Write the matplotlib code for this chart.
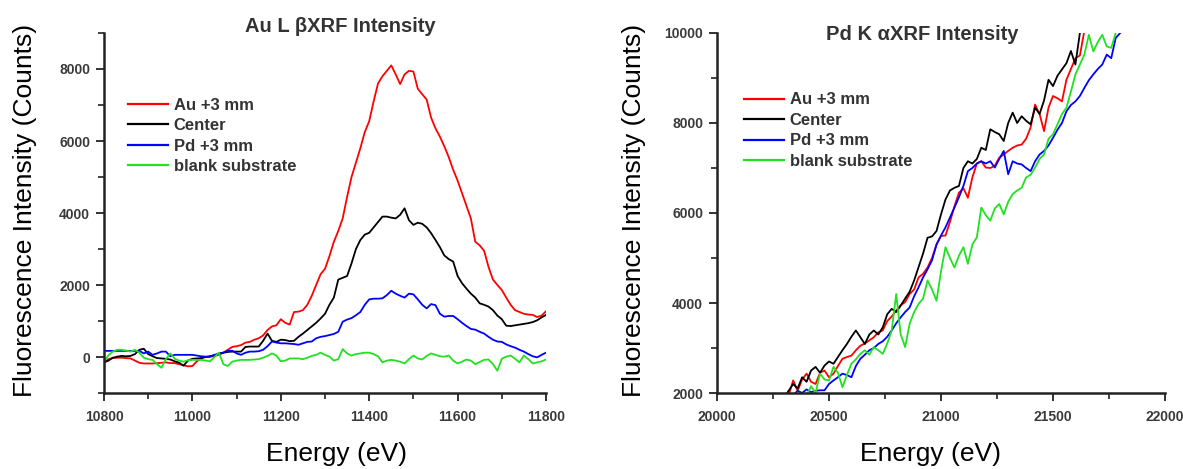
import numpy as np
import matplotlib
matplotlib.use('Agg')
import matplotlib.pyplot as plt
from matplotlib.ticker import MultipleLocator

plt.rcParams['font.family'] = ['Liberation Sans', 'DejaVu Sans']

# ---------------- data ----------------
series_labels = ['Au +3 mm', 'Center', 'Pd +3 mm', 'blank substrate']
series_colors = ['#ff0000', '#000000', '#0000ff', '#22e022']

# Au L-beta panel: energies 10800..11800 eV, 10 eV step
au_start, au_step = 10800, 10
au_red = [-150, -60, -30, -20, -20, -30, -40, -100, -160, -180,
          -180, -180, -170, -160, -150, -170, -170, -200, -230, -260,
          -250, -120, -30, 0, 10, 30, 60, 120, 200, 280,
          300, 330, 400, 420, 480, 520, 600, 750, 850, 880,
          1050, 950, 900, 1250, 1260, 1300, 1450, 1700, 2000, 2300,
          2450, 2800, 3200, 3500, 3850, 4450, 5000, 5400, 5800, 6250,
          6550, 7100, 7600, 7800, 7950, 8100, 7850, 7580, 7850, 7950,
          7930, 7450, 7300, 7150, 6650, 6350, 6120, 5850, 5550, 5200,
          4900, 4550, 4200, 3850, 3200, 3100, 2950, 2500, 2150, 2000,
          1860, 1650, 1450, 1300, 1250, 1200, 1180, 1170, 1110, 1150,
          1270]
au_black = [-150, -100, -20, 10, 30, 20, 30, 80, 200, 230,
            80, 20, -30, -40, -50, -70, -120, -160, -240, -100,
            -50, -40, -30, 0, 20, 50, 100, 120, 140, 150,
            150, 150, 280, 290, 290, 290, 450, 650, 450, 420,
            480, 470, 440, 450, 560, 650, 750, 850, 950, 1070,
            1200, 1450, 1650, 2150, 2200, 2250, 2600, 3000, 3250, 3400,
            3450, 3600, 3750, 3900, 3900, 3870, 3850, 3950, 4130, 3800,
            3670, 3730, 3700, 3600, 3440, 3250, 3050, 2820, 2720, 2650,
            2250, 2050, 1900, 1760, 1650, 1490, 1450, 1400, 1300, 1150,
            1050, 870, 860, 880, 900, 920, 940, 970, 1020, 1100,
            1170]
au_blue = [170, 170, 170, 170, 170, 170, 170, 170, 170, 100,
           150, 60, 100, 150, 150, 20, 60, 60, 60, 60,
           60, 40, 20, 10, 10, 60, 80, 120, 170, 175,
           100, 60, 120, 150, 150, 160, 200, 300, 430, 400,
           380, 380, 370, 360, 340, 380, 420, 430, 520, 560,
           580, 610, 640, 700, 980, 1040, 1080, 1160, 1250, 1450,
           1600, 1620, 1620, 1630, 1720, 1840, 1760, 1700, 1650, 1760,
           1740, 1600, 1450, 1350, 1470, 1440, 1200, 1120, 1140, 1140,
           1050, 950, 860, 780, 760, 700, 650, 560, 480, 430,
           420, 350, 300, 260, 200, 150, 80, 20, -10, 60,
           120]
au_green = [-130, 50, 150, 200, 200, 180, 150, 200, 120, -20,
            -60, -80, -200, -300, -60, 100, -50, -100, -130, -90,
            -80, -80, -80, -100, -120, 0, 120, -200, -250, -130,
            -100, -80, -80, -80, -70, -60, -20, 30, 100, 40,
            -120, -100, -40, -40, -40, -60, -20, 30, 60, 120,
            60, 10, -100, -60, 220, 100, 40, 80, 100, 120,
            120, 80, 20, -150, -100, -80, -100, -130, -180, -60,
            40, -40, -70, 30, 100, 60, 20, 10, 40, -100,
            -180, -130, -70, -100, -200, -140, -80, -70, -200, -380,
            -50, 10, 40, -50, -150, 40, -60, -180, -150, -120,
            -70]

# Pd K-alpha panel: 20 eV step, each series has its own start energy
pd_step = 20
pd_red_start = 20320
pd_red = [1950, 2280, 2050, 2300, 2430, 2250, 2200, 2450, 2500, 2350,
          2430, 2600, 2760, 2800, 2830, 2950, 3050, 3100, 3170, 3240,
          3350, 3390, 3600, 3700, 3830, 3950, 4020, 4200, 4300, 4570,
          4650, 4790, 5000, 5300, 5490, 5500, 5800, 6150, 6450, 6550,
          6340, 6790, 7100, 7150, 7010, 7000, 7050, 7230, 7300, 7380,
          7450, 7500, 7520, 7650, 7900, 8410, 8200, 7820, 8340, 8600,
          8550, 8480, 8960, 9200, 9440, 9500, 10050, 10200]
pd_black_start = 20300
pd_black = [1900, 2050, 2200, 2100, 2350, 2250, 2500, 2580, 2450, 2610,
            2700, 2650, 2800, 2950, 3090, 3250, 3390, 3240, 3090, 3300,
            3390, 3300, 3460, 3750, 3870, 3800, 3940, 4100, 4250, 4500,
            4800, 5100, 5450, 5480, 5600, 5970, 6300, 6500, 6560, 6600,
            7000, 7150, 7100, 7200, 7450, 7400, 7860, 7800, 7750, 7600,
            8000, 8230, 8000, 8150, 8050, 7970, 8340, 8200, 8500, 8960,
            8820, 9050, 9190, 9330, 9600, 9300, 10000, 10300]
pd_blue_start = 20340
pd_blue = [1950, 2050, 2000, 2080, 2020, 2050, 2060, 2060, 2200, 2280,
           2350, 2430, 2400, 2350, 2600, 2760, 2850, 2950, 3000, 3090,
           3150, 3250, 3390, 3550, 3680, 3800, 3900, 4150, 4350, 4570,
           4750, 4950, 5300, 5500, 5680, 5900, 6120, 6350, 6600, 6930,
           7000, 7100, 7150, 7100, 7150, 7010, 7200, 7380, 6860, 7150,
           7100, 7080, 7000, 6930, 7150, 7300, 7380, 7500, 7670, 7850,
           8000, 8260, 8400, 8480, 8600, 8780, 8950, 9080, 9200, 9300,
           9520, 9440, 9890, 10000, 10100]
pd_green_start = 20400
pd_green = [1950, 2150, 2000, 2430, 2300, 2280, 2580, 2450, 2130, 2400,
            2650, 2750, 2870, 2950, 2850, 3020, 2950, 2870, 3100, 3390,
            4200, 3300, 3020, 3540, 3800, 3980, 4100, 4500, 4300, 4050,
            4700, 5240, 5000, 4790, 5050, 5240, 4870, 5300, 5460, 6120,
            5950, 5830, 6100, 6200, 5970, 6250, 6420, 6500, 6560, 6790,
            6850, 7010, 7200, 7300, 7650, 7750, 7970, 8200, 8340, 8700,
            9080, 9300, 9520, 9960, 9590, 9800, 9960, 9700, 9670, 10000,
            10200]

au_xticks_major, au_xticks_minor = 200, 100
pd_xticks_major, pd_xticks_minor = 500, 250

# ---------------- figure ----------------
W, H = 1183, 469
fig = plt.figure(figsize=(W / 100, H / 100), dpi=100)
ax1 = fig.add_axes([104 / W, 1 - 393 / H, 442 / W, 360 / H])
ax2 = fig.add_axes([717 / W, 1 - 393 / H, 448 / W, 360 / H])

tick_color = '#3a3a3a'

au_series = [au_red, au_black, au_blue, au_green]
for vals, col, lab in zip(au_series, series_colors, series_labels):
    e = au_start + au_step * np.arange(len(vals))
    ax1.plot(e, vals, color=col, lw=1.3, label=lab)

pd_series = [(pd_red_start, pd_red), (pd_black_start, pd_black),
             (pd_blue_start, pd_blue), (pd_green_start, pd_green)]
for (s, vals), col, lab in zip(pd_series, series_colors, series_labels):
    e = s + pd_step * np.arange(len(vals))
    ax2.plot(e, vals, color=col, lw=1.3, label=lab)

ax1.set_xlim(10800, 11800)
ax1.set_ylim(-1000, 9000)
ax1.xaxis.set_major_locator(MultipleLocator(au_xticks_major))
ax1.xaxis.set_minor_locator(MultipleLocator(au_xticks_minor))
ax1.yaxis.set_minor_locator(MultipleLocator(1000))
ax1.set_yticks([0, 2000, 4000, 6000, 8000])

ax2.set_xlim(20000, 22000)
ax2.set_ylim(2000, 10000)
ax2.xaxis.set_major_locator(MultipleLocator(pd_xticks_major))
ax2.xaxis.set_minor_locator(MultipleLocator(pd_xticks_minor))
ax2.yaxis.set_major_locator(MultipleLocator(2000))
ax2.yaxis.set_minor_locator(MultipleLocator(1000))

for ax in (ax1, ax2):
    for sp in ('top', 'right'):
        ax.spines[sp].set_visible(False)
    for sp in ('left', 'bottom'):
        ax.spines[sp].set_color('#222222')
        ax.spines[sp].set_linewidth(1.8)
    ax.tick_params(which='major', direction='out', length=6, width=1.3,
                   color='#222222', labelsize=10, labelcolor=tick_color)
    ax.tick_params(which='minor', direction='out', length=4, width=1.2,
                   color='#222222')
    ax.tick_params(axis='y', pad=4)
    ax.tick_params(axis='x', pad=6)
    for lbl in ax.get_xticklabels() + ax.get_yticklabels():
        lbl.set_fontweight('bold')
    ax.patch.set_alpha(0)

leg_kw = dict(loc='upper left', frameon=False, handlelength=2.4,
              handletextpad=0.35, labelspacing=0.33, borderpad=0,
              borderaxespad=0, prop={'size': 12, 'weight': 'bold'})
leg1 = ax1.legend(bbox_to_anchor=(0.054, 0.82), **leg_kw)
leg2 = ax2.legend(bbox_to_anchor=(0.06, 0.835), **leg_kw)
for leg in (leg1, leg2):
    for t in leg.get_texts():
        t.set_color('#333333')
    for l in leg.get_lines():
        l.set_linewidth(1.6)

# titles
fig.text(340 / W, 1 - 27 / H, 'Au L \u03b2XRF Intensity', ha='center', va='center',
         fontsize=14.5, fontweight='bold', color='#333333')
fig.text(922 / W, 1 - 35 / H, 'Pd K \u03b1XRF Intensity', ha='center', va='center',
         fontsize=14.5, fontweight='bold', color='#333333')

# axis labels
for xc in (25, 634):
    fig.text(xc / W, 1 - 210 / H, 'Fluorescence Intensity (Counts)', rotation=90,
             ha='center', va='center', fontsize=19, color='#000000')
for xc in (337, 930):
    fig.text(xc / W, 1 - 454 / H, 'Energy (eV)', ha='center', va='center',
             fontsize=19, color='#000000')

fig.savefig('out.png', dpi=100)
